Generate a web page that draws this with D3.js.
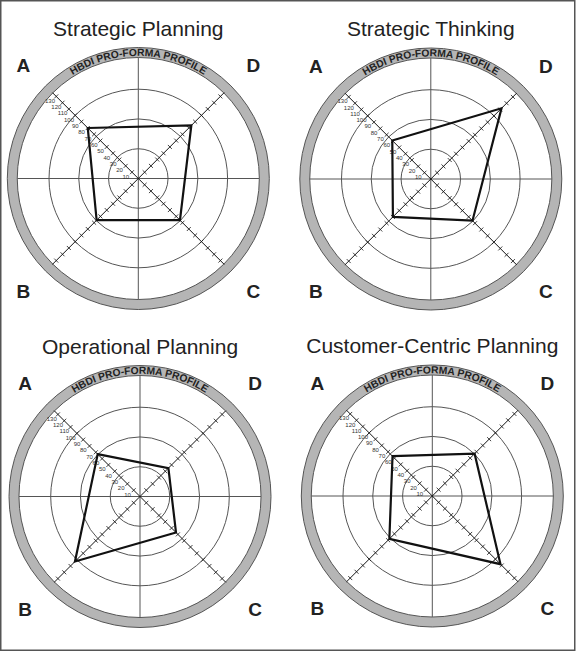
<!DOCTYPE html>
<html>
<head>
<meta charset="utf-8">
<script src="https://cdn.jsdelivr.net/npm/d3@7"></script>
<style>
  html, body { margin: 0; padding: 0; background: #fff; }
  svg { display: block; }
</style>
</head>
<body>
<svg id="chart" width="576" height="652"></svg>
<script>
// ---------- data ----------
const panelTitles = ["Strategic Planning", "Strategic Thinking", "Operational Planning", "Customer-Centric Planning"];
const quadrantNames = ["A", "D", "C", "B"];          // polygon order (clockwise from upper-left)
const valuesA = [80, 61, 67, 63];
const valuesD = [84, 112, 45, 67];
const valuesC = [66, 66, 57, 108];
const valuesB = [66, 60, 103, 68];
const tickValues = [10, 20, 30, 40, 50, 60, 70, 80, 90, 100, 110, 120, 130];
const ringValues = [33.3, 66.7, 100];
const ringLabel = "HBDI PRO-FORMA PROFILE";

// ---------- layout ----------
const W = 576, H = 652;
const centers = [[138.3, 178.5], [430.8, 179], [140, 496.5], [432.3, 496]];
const innerR = 121, outerR = 131;
const rScale = d3.scaleLinear().domain([0, 100]).range([0, 89.3]);
const angleOf = { A: -Math.PI / 4, D: Math.PI / 4, C: 3 * Math.PI / 4, B: -3 * Math.PI / 4 };

const svg = d3.select("#chart");
svg.append("rect").attr("width", W).attr("height", H).attr("fill", "#fff");
svg.append("rect").attr("x", 0.75).attr("y", 0.75).attr("width", 574).attr("height", 649.5)
  .attr("fill", "none").attr("stroke", "#555").attr("stroke-width", 1.5);

const seriesByQuadrant = { A: valuesA, D: valuesD, C: valuesC, B: valuesB };

const radial = d3.lineRadial()
  .angle(d => d.angle)
  .radius(d => rScale(d.value))
  .curve(d3.curveLinearClosed);

panelTitles.forEach((title, i) => {
  const [cx, cy] = centers[i];
  const g = svg.append("g").attr("transform", `translate(${cx},${cy})`);

  // title
  g.append("text").attr("x", 0).attr("y", -143)
    .attr("text-anchor", "middle")
    .attr("font-family", "Liberation Sans, Arial, sans-serif")
    .attr("font-size", 21).attr("fill", "#222").text(title);

  // quadrant letters
  const letterPos = { A: [-115, -106.5], D: [115, -106.5], B: [-115, 119], C: [115, 119] };
  Object.entries(letterPos).forEach(([k, p]) => {
    g.append("text").attr("x", p[0]).attr("y", p[1])
      .attr("text-anchor", "middle")
      .attr("font-family", "Liberation Sans, Arial, sans-serif")
      .attr("font-weight", "bold").attr("font-size", 19).attr("fill", "#222").text(k);
  });

  // outer gray ring
  g.append("path")
    .attr("d", d3.arc()({ innerRadius: innerR, outerRadius: outerR, startAngle: 0, endAngle: 2 * Math.PI }))
    .attr("fill", "#b5b5b5").attr("stroke", "#555").attr("stroke-width", 1);

  // ring label
  const pid = "ringpath" + i;
  const rt = 122.6;
  g.append("path").attr("id", pid).attr("fill", "none")
    .attr("d", `M${-rt},0 A${rt},${rt} 0 0 1 ${rt},0`);
  g.append("text")
    .attr("font-family", "Liberation Sans, Arial, sans-serif")
    .attr("font-weight", "bold").attr("font-size", 10.3).attr("fill", "#222")
    .append("textPath").attr("href", "#" + pid)
    .attr("startOffset", "50%").attr("text-anchor", "middle")
    .text(ringLabel);

  // concentric circles
  g.selectAll(".ring").data(ringValues).enter().append("circle")
    .attr("r", d => rScale(d)).attr("fill", "none")
    .attr("stroke", "#555").attr("stroke-width", 1);

  // horizontal & vertical axes
  g.append("line").attr("x1", -innerR).attr("x2", innerR).attr("y1", 0).attr("y2", 0)
    .attr("stroke", "#555").attr("stroke-width", 1);
  g.append("line").attr("y1", -innerR).attr("y2", innerR).attr("x1", 0).attr("x2", 0)
    .attr("stroke", "#555").attr("stroke-width", 1);

  // diagonal axes with ticks
  const diagLen = innerR + 0.5;
  Object.entries(angleOf).forEach(([k, a]) => {
    const ux = Math.sin(a), uy = -Math.cos(a);
    const px = Math.cos(a), py = Math.sin(a);
    g.append("line").attr("x1", 0).attr("y1", 0).attr("x2", ux * diagLen).attr("y2", uy * diagLen)
      .attr("stroke", "#111").attr("stroke-width", 1);
    g.selectAll(".tick" + k).data(tickValues).enter().append("line")
      .attr("x1", d => ux * rScale(d) - px * 2.8).attr("y1", d => uy * rScale(d) - py * 2.8)
      .attr("x2", d => ux * rScale(d) + px * 2.8).attr("y2", d => uy * rScale(d) + py * 2.8)
      .attr("stroke", "#111").attr("stroke-width", 0.8);
    if (k === "A") {
      g.selectAll(".tlab").data(tickValues).enter().append("text")
        .attr("x", d => ux * rScale(d) - 6.2)
        .attr("y", d => uy * rScale(d) + 4.3)
        .attr("text-anchor", "middle").attr("dominant-baseline", "central")
        .attr("font-family", "Liberation Sans, Arial, sans-serif")
        .attr("font-size", 6).attr("fill", "#333")
        .text(d => d);
    }
  });

  // profile polygon
  const pts = quadrantNames.map(q => ({ angle: angleOf[q], value: seriesByQuadrant[q][i] }));
  g.append("path").attr("d", radial(pts))
    .attr("fill", "none").attr("stroke", "#111").attr("stroke-width", 2.2)
    .attr("stroke-linejoin", "miter");
});
</script>
</body>
</html>
